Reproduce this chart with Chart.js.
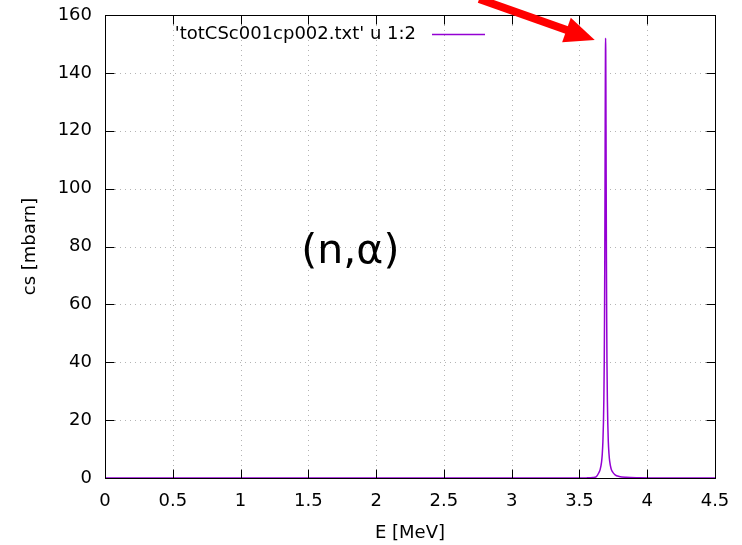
<!DOCTYPE html>
<html>
<head>
<meta charset="utf-8">
<script src="https://cdn.jsdelivr.net/npm/chart.js@4/dist/chart.umd.min.js"></script>
<style>
html,body{margin:0;padding:0;background:#fff;}
#wrap{width:742px;height:545px;position:relative;}
</style>
</head>
<body>
<div id="wrap"><canvas id="c" width="742" height="545"></canvas></div>
<script>
// ---- data ----
const energyMeV = [0, 1.0, 2.0, 3.0, 3.4, 3.5, 3.55, 3.6, 3.623, 3.643, 3.653, 3.663, 3.668, 3.673, 3.677, 3.680, 3.683, 3.685, 3.687, 3.689, 3.690, 3.691, 3.692, 3.693, 3.694, 3.695, 3.696, 3.697, 3.699, 3.701, 3.703, 3.706, 3.709, 3.713, 3.718, 3.723, 3.733, 3.743, 3.763, 3.793, 3.843, 3.943, 4.1, 4.3, 4.5];
const crossSection = [0, 0, 0, 0, 0, 0.01, 0.04, 0.15, 0.4, 1.8, 3.0, 5.5, 8.0, 12.5, 19, 27, 40, 55, 76, 105, 122, 137, 148, 152, 148, 137, 122, 105, 76, 55, 40, 27, 19, 12.5, 8.3, 5.8, 3.3, 2.2, 1.1, 0.55, 0.24, 0.09, 0.03, 0.01, 0];
const xTickValues = [0, 0.5, 1, 1.5, 2, 2.5, 3, 3.5, 4, 4.5];
const yTickValues = [0, 20, 40, 60, 80, 100, 120, 140, 160];
const seriesLabel = "'totCSc001cp002.txt' u 1:2";
const reactionLabel = "(n,\u03b1)";
const xTitle = "E [MeV]";
const yTitle = "cs [mbarn]";

const FONT = "'DejaVu Sans', sans-serif";
const LINE_COLOR = '#9400d3';

const points = energyMeV.map((e, i) => ({x: e, y: crossSection[i]}));

const gnuplotFrame = {
  id: 'gnuplotFrame',
  beforeDatasetsDraw(chart) {
    const {ctx, chartArea: a, scales: {x, y}} = chart;
    ctx.save();
    ctx.strokeStyle = '#b4b4b4';
    ctx.lineWidth = 1;
    ctx.setLineDash([1, 4]);
    xTickValues.forEach(v => {
      const px = Math.round(x.getPixelForValue(v)) + 0.5;
      if (v === x.min || v === x.max) return;
      ctx.beginPath(); ctx.moveTo(px, a.top); ctx.lineTo(px, a.bottom); ctx.stroke();
    });
    yTickValues.forEach(v => {
      const py = Math.round(y.getPixelForValue(v)) + 0.5;
      if (v === y.min || v === y.max) return;
      ctx.beginPath(); ctx.moveTo(a.left, py); ctx.lineTo(a.right, py); ctx.stroke();
    });
    ctx.restore();
  },
  afterDatasetsDraw(chart) {
    const {ctx, chartArea: a, scales: {x, y}} = chart;
    ctx.save();
    ctx.strokeStyle = '#000';
    ctx.lineWidth = 1;
    ctx.setLineDash([]);
    const L = 9;
    const l = Math.round(a.left) + 0.5, r = Math.round(a.right) + 0.5;
    const t = Math.round(a.top) + 0.5, b = Math.round(a.bottom) + 0.5;
    xTickValues.forEach(v => {
      const px = Math.round(x.getPixelForValue(v)) + 0.5;
      ctx.beginPath();
      ctx.moveTo(px, b); ctx.lineTo(px, b - L);
      ctx.moveTo(px, t); ctx.lineTo(px, t + L);
      ctx.stroke();
    });
    yTickValues.forEach(v => {
      const py = Math.round(y.getPixelForValue(v)) + 0.5;
      ctx.beginPath();
      ctx.moveTo(l, py); ctx.lineTo(l + L, py);
      ctx.moveTo(r, py); ctx.lineTo(r - L, py);
      ctx.stroke();
    });
    ctx.strokeRect(l, t, r - l, b - t);

    // legend (inside, top-left)
    ctx.font = '18px ' + FONT;
    ctx.fillStyle = '#000';
    ctx.textAlign = 'right';
    ctx.textBaseline = 'middle';
    const ly = a.top + 19;
    ctx.fillText(seriesLabel, a.left + 311, ly);
    ctx.strokeStyle = LINE_COLOR;
    ctx.lineWidth = 1.5;
    ctx.beginPath();
    ctx.moveTo(a.left + 327, Math.round(ly) + 0.5);
    ctx.lineTo(a.left + 380, Math.round(ly) + 0.5);
    ctx.stroke();

    // reaction label
    ctx.font = '41px ' + FONT;
    ctx.fillStyle = '#000';
    ctx.textAlign = 'center';
    ctx.textBaseline = 'middle';
    ctx.fillText(reactionLabel, x.getPixelForValue(1.81), y.getPixelForValue(78));

    // axis titles
    ctx.font = '18px ' + FONT;
    ctx.fillText(xTitle, (a.left + a.right) / 2, 533);
    ctx.save();
    ctx.translate(30, (a.top + a.bottom) / 2);
    ctx.rotate(-Math.PI / 2);
    ctx.fillText(yTitle, 0, 0);
    ctx.restore();

    // red arrow annotation
    const x0 = x.getPixelForValue(2.76), y0 = y.getPixelForValue(165.5);
    const x1 = x.getPixelForValue(3.613), y1 = y.getPixelForValue(151.4);
    const dx = x1 - x0, dy = y1 - y0, len = Math.hypot(dx, dy);
    const ux = dx / len, uy = dy / len, nx = -uy, ny = ux;
    const head = 30, hw = 13;
    const bx = x1 - ux * head, by = y1 - uy * head;
    ctx.strokeStyle = '#ff0000';
    ctx.fillStyle = '#ff0000';
    ctx.lineWidth = 8;
    ctx.lineCap = 'butt';
    ctx.beginPath();
    ctx.moveTo(x0, y0);
    ctx.lineTo(bx + ux * 4, by + uy * 4);
    ctx.stroke();
    ctx.beginPath();
    ctx.moveTo(x1, y1);
    ctx.lineTo(bx + nx * hw, by + ny * hw);
    ctx.lineTo(bx - nx * hw, by - ny * hw);
    ctx.closePath();
    ctx.fill();
    ctx.restore();
  }
};

new Chart(document.getElementById('c'), {
  type: 'scatter',
  data: {
    datasets: [{
      label: seriesLabel,
      data: points,
      showLine: true,
      borderColor: LINE_COLOR,
      backgroundColor: LINE_COLOR,
      borderWidth: 1.5,
      borderJoinStyle: 'round',
      borderCapStyle: 'round',
      cubicInterpolationMode: 'monotone',
      pointRadius: 0,
      fill: false
    }]
  },
  options: {
    responsive: false,
    animation: false,
    devicePixelRatio: 1,
    layout: {padding: {top: 15, right: 27, left: 0, bottom: 0}},
    plugins: {legend: {display: false}, tooltip: {enabled: false}},
    scales: {
      x: {
        type: 'linear', min: 0, max: 4.5,
        afterBuildTicks: s => { s.ticks = xTickValues.map(v => ({value: v})); },
        afterFit: s => { s.height = 67; s.paddingLeft = 0; s.paddingRight = 0; },
        grid: {display: false, drawTicks: false},
        border: {display: false},
        ticks: {color: '#000', font: {family: FONT, size: 18}, padding: 13, maxRotation: 0,
                callback: v => String(v)}
      },
      y: {
        type: 'linear', min: 0, max: 160,
        afterBuildTicks: s => { s.ticks = yTickValues.map(v => ({value: v})); },
        afterFit: s => { s.width = 105; s.paddingTop = 0; s.paddingBottom = 0; },
        grid: {display: false, drawTicks: false},
        border: {display: false},
        ticks: {color: '#000', font: {family: FONT, size: 18}, padding: 13,
                callback: v => String(v)}
      }
    }
  },
  plugins: [gnuplotFrame]
});
</script>
</body>
</html>
